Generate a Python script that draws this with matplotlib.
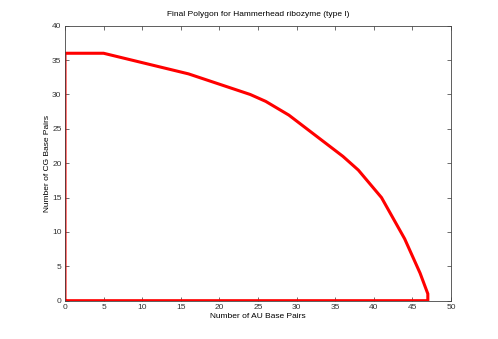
import matplotlib
matplotlib.use("Agg")
import matplotlib.pyplot as plt

plt.rcParams['font.family'] = ['Liberation Sans', 'DejaVu Sans']

au_pairs = [0, 0, 5, 16, 24, 26, 29, 36, 38, 41, 44, 46, 47, 47, 0]
cg_pairs = [0, 36, 36, 33, 30, 29, 27, 21, 19, 15, 9, 4, 1, 0, 0]
title = "Final Polygon for Hammerhead ribozyme (type I)"
xlabel = "Number of AU Base Pairs"
ylabel = "Number of CG Base Pairs"
xticks = [0, 5, 10, 15, 20, 25, 30, 35, 40, 45, 50]
yticks = [0, 5, 10, 15, 20, 25, 30, 35, 40]

fig = plt.figure(figsize=(4.98, 3.39), dpi=100)
ax = fig.add_axes([0.1305, 0.113, 0.7751, 0.811])
ax.plot(au_pairs, cg_pairs, color='#ff0000', linewidth=2.2, solid_joinstyle='miter')
ax.set_xlim(0, 50)
ax.set_ylim(0, 40)
ax.set_xticks(xticks)
ax.set_yticks(yticks)
ax.tick_params(direction='in', length=3, width=0.5, labelsize=6, top=True, right=True,
               colors='#333333', pad=2.5)
for s in ax.spines.values():
    s.set_linewidth(0.6)
    s.set_color('#444444')
ax.set_title(title, fontsize=6, pad=7)
ax.set_xlabel(xlabel, fontsize=6, labelpad=1.5)
ax.set_ylabel(ylabel, fontsize=6, labelpad=1)
fig.savefig("out.png", dpi=100)
